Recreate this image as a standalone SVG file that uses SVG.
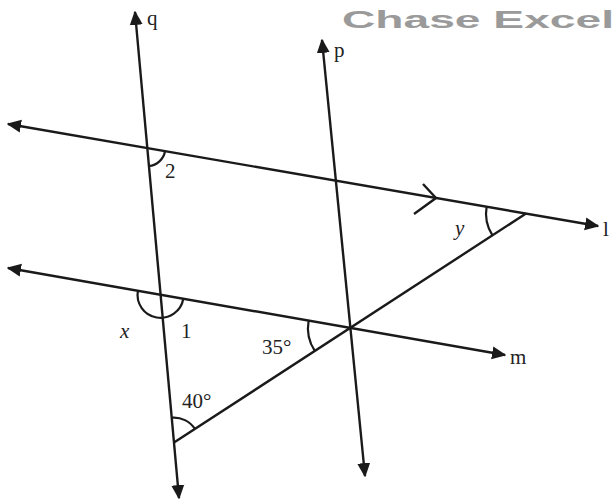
<svg xmlns="http://www.w3.org/2000/svg" width="613" height="504" viewBox="0 0 613 504">
<style>
.ln{stroke:#1a1a1a;stroke-width:2.4;fill:none}
.arw{marker-start:url(#ah);marker-end:url(#ah)}
.arc{stroke:#1a1a1a;stroke-width:2.2;fill:none}
.lb{font-family:"Liberation Serif","Times New Roman",serif;font-size:21px;fill:#222}
.it{font-style:italic}
.wm{font-family:"Liberation Sans",Arial,sans-serif;font-weight:bold;font-size:23px;fill:#9a9a9a}
</style>
<defs>
<marker id="ah" viewBox="0 0 10 10" refX="9" refY="5" markerWidth="6" markerHeight="6" orient="auto-start-reverse" markerUnits="strokeWidth">
<path d="M0,0.5 L10,5 L0,9.5 Z" fill="#1a1a1a"/>
</marker>
</defs>
<text class="wm" x="342" y="28" textLength="272" lengthAdjust="spacingAndGlyphs">Chase Excel</text>
<g id="connectors">
<line id="line-q" class="ln arw" x1="135" y1="12" x2="179" y2="498"/>
<line id="line-p" class="ln arw" x1="322" y1="40" x2="365" y2="476"/>
<line id="line-l" class="ln arw" x1="8" y1="124" x2="598" y2="226"/>
<line id="line-m" class="ln arw" x1="8" y1="268" x2="505" y2="355"/>
<line id="transversal" class="ln" x1="174" y1="442.6" x2="526" y2="213.5"/>
<path id="parallel-mark" class="ln" d="M423,184 L436,198 L414,214"/>
</g>
<g id="angle-2">
<path class="arc" d="M165,151.2 A18,18 0 0 1 148.9,166"/>
<text class="lb" x="165" y="178">2</text>
</g>
<g id="angle-x-1">
<path class="arc" d="M183.3,298.8 A23,23 0 0 1 156.6,317.5 A23,23 0 0 1 137.9,290.8"/>
<text class="lb it" x="120" y="338">x</text>
<text class="lb" x="181" y="338">1</text>
</g>
<g id="angle-y">
<path class="arc" d="M492.5,235.3 A40,40 0 0 1 486.6,206.7"/>
<text class="lb it" x="455" y="235">y</text>
</g>
<g id="angle-35">
<path class="arc" d="M314.8,350.9 A42,42 0 0 1 308.6,320.7"/>
<text class="lb" x="262" y="354">35°</text>
</g>
<g id="angle-40">
<path class="arc" d="M171.75,417.7 A25,25 0 0 1 194.95,429"/>
<text class="lb" x="182" y="408">40°</text>
</g>
<g id="labels">
<text class="lb" x="147" y="25">q</text>
<text class="lb" x="334" y="57">p</text>
<text class="lb" x="603" y="236">l</text>
<text class="lb" x="510" y="364">m</text>
</g>
</svg>
